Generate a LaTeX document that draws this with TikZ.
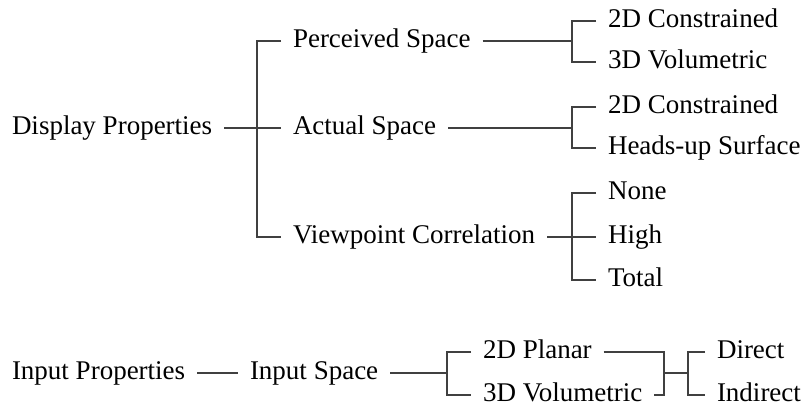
\documentclass[tikz,border=0pt]{standalone}
\usepackage{fontspec}
\setmainfont{Liberation Serif}
\begin{document}
\begin{tikzpicture}[x=0.5pt,y=-0.5pt,
  lbl/.style={anchor=west, inner xsep=6pt, inner ysep=0pt, outer sep=0pt,
    text height=0.9em, text depth=0.24em, font=\fontsize{13.5}{16}\selectfont},
  conn/.style={draw=black!75, line width=0.6pt}]
\useasboundingbox (0,0) rectangle (803,407);
% display properties tree
\node[lbl] (dp) at (0,128) {Display Properties};
\node[lbl] (ps) at (281,41) {Perceived Space};
\node[lbl] (as) at (281,128) {Actual Space};
\node[lbl] (vc) at (281,237) {Viewpoint Correlation};
\node[lbl] (ps1) at (596,21) {2D Constrained};
\node[lbl] (ps2) at (596,62) {3D Volumetric};
\node[lbl] (as1) at (596,107) {2D Constrained};
\node[lbl] (as2) at (596,148) {Heads-up Surface};
\node[lbl] (vc1) at (596,193) {None};
\node[lbl] (vc2) at (596,237) {High};
\node[lbl] (vc3) at (596,280) {Total};
\coordinate (b1) at (257,0);
\coordinate (b2) at (572,0);
\draw[conn] (dp.east) -- (as.west);
\draw[conn] (ps.west) -- (ps.west -| b1) -- (vc.west -| b1) -- (vc.west);
\draw[conn] (ps.east) -- (ps.east -| b2);
\draw[conn] (ps1.west) -- (ps1.west -| b2) -- (ps2.west -| b2) -- (ps2.west);
\draw[conn] (as.east) -- (as.east -| b2);
\draw[conn] (as1.west) -- (as1.west -| b2) -- (as2.west -| b2) -- (as2.west);
\draw[conn] (vc.east) -- (vc2.west);
\draw[conn] (vc1.west) -- (vc1.west -| b2) -- (vc3.west -| b2) -- (vc3.west);
% input properties tree
\node[lbl] (ip) at (0,373) {Input Properties};
\node[lbl] (is) at (238,373) {Input Space};
\node[lbl] (pl) at (471,352) {2D Planar};
\node[lbl] (vo) at (471,395) {3D Volumetric};
\node[lbl] (di) at (705,352) {Direct};
\node[lbl] (ind) at (705,395) {Indirect};
\coordinate (b3) at (447,0);
\coordinate (b4) at (664,0);
\coordinate (b5) at (688,0);
\coordinate (m) at (664,373);
\draw[conn] (ip.east) -- (is.west);
\draw[conn] (is.east) -- (is.east -| b3);
\draw[conn] (pl.west) -- (pl.west -| b3) -- (vo.west -| b3) -- (vo.west);
\draw[conn] (pl.east) -- (pl.east -| b4) -- (vo.east -| b4) -- (vo.east);
\draw[conn] (m) -- (m -| b5);
\draw[conn] (di.west) -- (di.west -| b5) -- (ind.west -| b5) -- (ind.west);
\end{tikzpicture}
\end{document}
